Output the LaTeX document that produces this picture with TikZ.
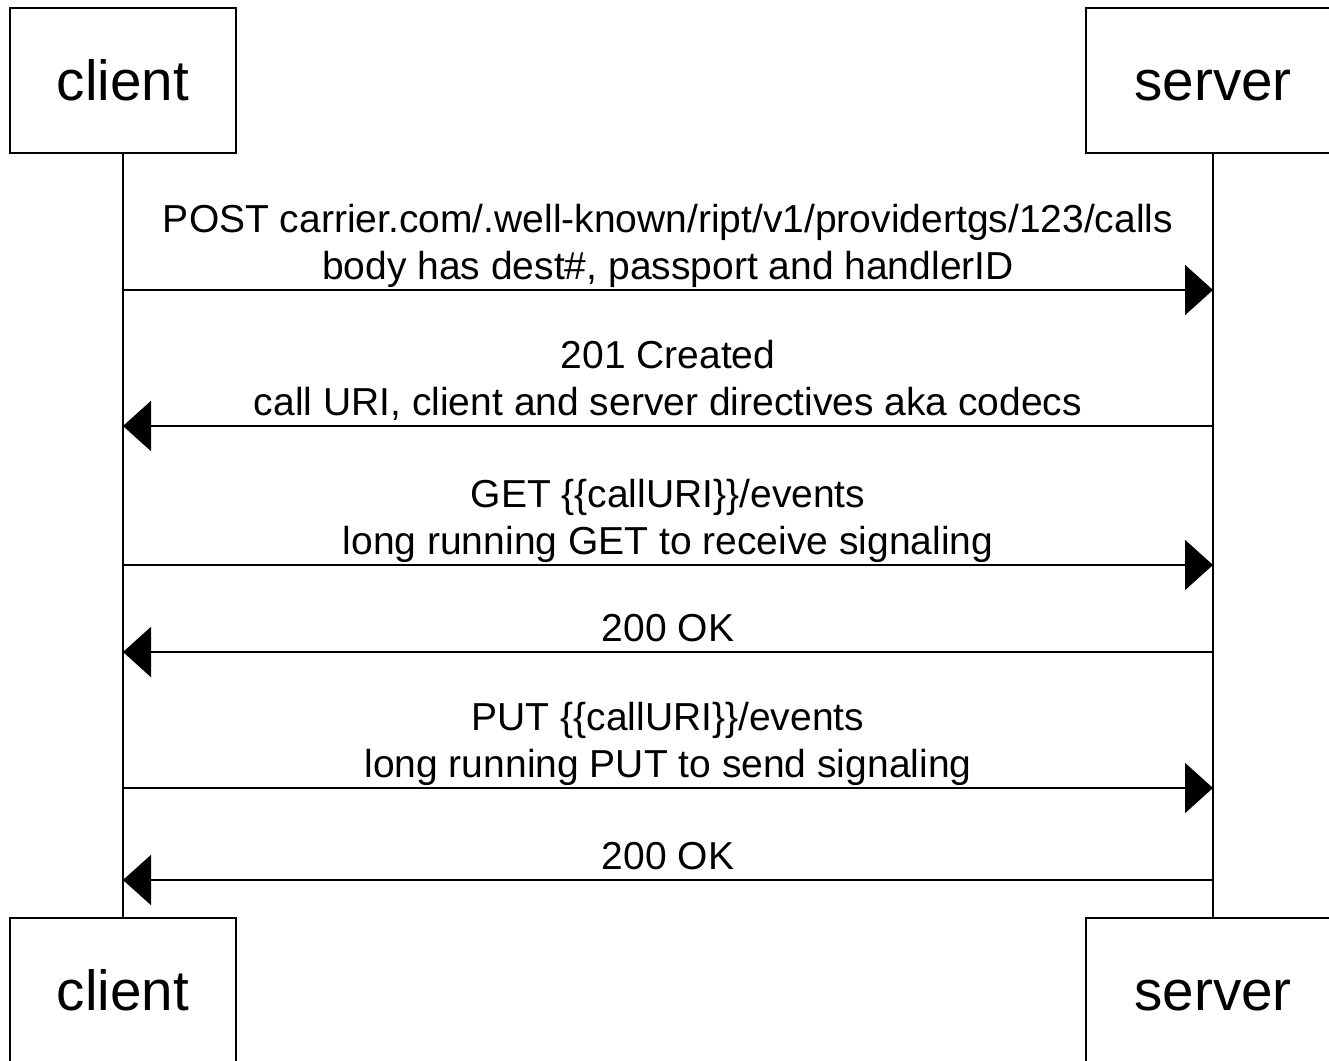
\documentclass[tikz,border=0pt]{standalone}
\usepackage{fontspec}
\setmainfont{Liberation Sans}
\usetikzlibrary{arrows.meta,positioning}
\tikzstyle{actor} = [draw, line width=1pt, rectangle, inner sep=0pt,
    text height=20pt, text depth=0pt,
    minimum height=72.5pt, font=\fontsize{28.3}{34}\selectfont]
\tikzstyle{msg} = [line width=1pt, -{Triangle[length=14pt,width=25pt]}]
\tikzstyle{msgtext} = [above=5pt, inner sep=0pt, text depth=0pt, align=center,
    font=\fontsize{19.5}{23.5}\selectfont]

\begin{document}
\begin{tikzpicture}[x=0.5pt,y=-0.5pt]
\useasboundingbox (0,0) rectangle (1329,1061);

\node [actor, minimum width=113pt] (client) at (123,80.5) {client};
\node [actor, minimum width=127pt] (server) at (1213,80.5) {server};
\node [actor, minimum width=113pt] (clientend) at (123,990.5) {client};
\node [actor, minimum width=127pt] (serverend) at (1213,990.5) {server};

\draw [line width=1pt] (client) -- (clientend);
\draw [line width=1pt] (server) -- (serverend);

\coordinate (c1) at (123,290);  \coordinate (s1) at (1213,290);
\coordinate (c2) at (123,426);  \coordinate (s2) at (1213,426);
\coordinate (c3) at (123,565);  \coordinate (s3) at (1213,565);
\coordinate (c4) at (123,652);  \coordinate (s4) at (1213,652);
\coordinate (c5) at (123,788);  \coordinate (s5) at (1213,788);
\coordinate (c6) at (123,880);  \coordinate (s6) at (1213,880);

\draw [msg] (c1) -- (s1) node [midway, msgtext] (post)
    {POST carrier.com/.well-known/ript/v1/providertgs/123/calls\\body has dest\#, passport and handlerID};
\draw [msg] (s2) -- (c2) node [midway, msgtext] (created)
    {201 Created\\call URI, client and server directives aka codecs};
\draw [msg] (c3) -- (s3) node [midway, msgtext] (get)
    {GET \{\{callURI\}\}/events\\long running GET to receive signaling};
\draw [msg] (s4) -- (c4) node [midway, msgtext] (getok) {200 OK};
\draw [msg] (c5) -- (s5) node [midway, msgtext] (put)
    {PUT \{\{callURI\}\}/events\\long running PUT to send signaling};
\draw [msg] (s6) -- (c6) node [midway, msgtext] (putok) {200 OK};

\end{tikzpicture}
\end{document}
